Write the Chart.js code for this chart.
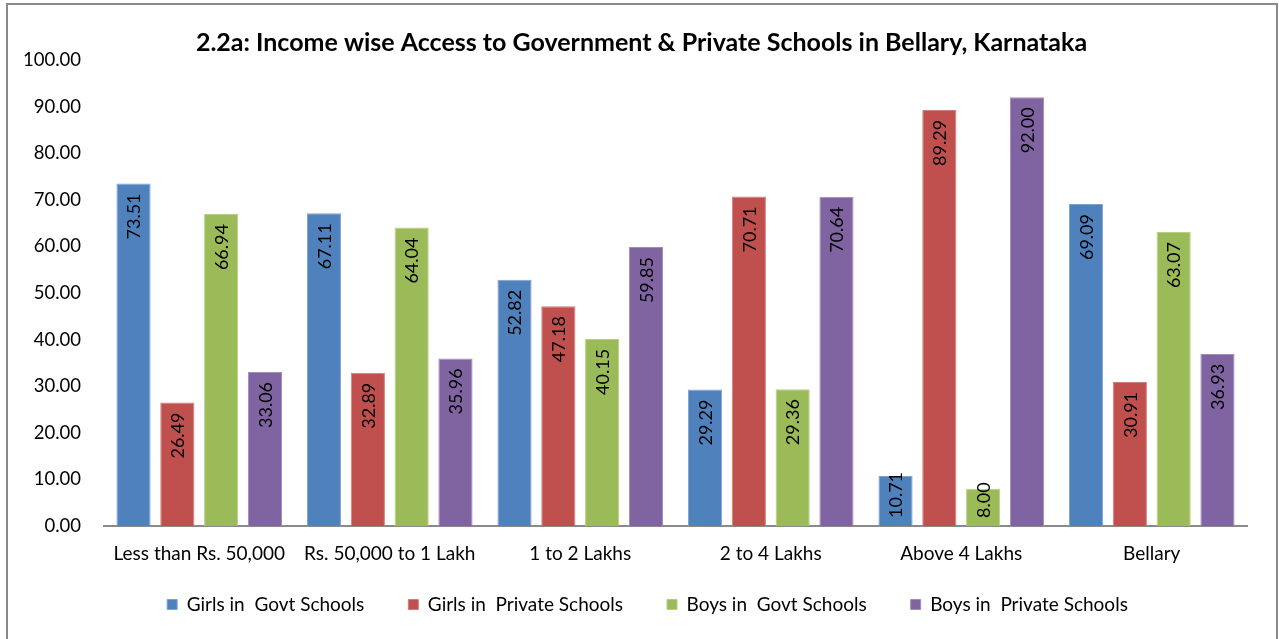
<!DOCTYPE html>
<html>
<head>
<meta charset="utf-8">
<title>Income wise Access to Schools - Bellary</title>
<script src="https://cdn.jsdelivr.net/npm/chart.js@4.4.1/dist/chart.umd.min.js"></script>
<style>
    html, body { margin: 0; padding: 0; background: #fff; overflow: hidden; }
    #wrap { position: relative; width: 1279px; height: 639px; }
    #frame {
        position: absolute; left: 6px; top: 3px; width: 1268px; height: 700px;
        border: 2px solid #8a8a8a; pointer-events: none;
    }
    canvas { position: absolute; left: 0; top: 0; }
</style>
</head>
<body>
<div id="wrap">
    <canvas id="chart" width="1279" height="639"></canvas>
    <div id="frame"></div>
</div>
<script>
// Income groups and per-group shares (%)
const categories = ['Less than Rs. 50,000', 'Rs. 50,000 to 1 Lakh', '1 to 2 Lakhs', '2 to 4 Lakhs', 'Above 4 Lakhs', 'Bellary'];
const girlsGovt    = [73.51, 67.11, 52.82, 29.29, 10.71, 69.09];
const girlsPrivate = [26.49, 32.89, 47.18, 70.71, 89.29, 30.91];
const boysGovt     = [66.94, 64.04, 40.15, 29.36, 8.00, 63.07];
const boysPrivate  = [33.06, 35.96, 59.85, 70.64, 92.00, 36.93];

const FONT = 'Lato, "Open Sans", sans-serif';

// Rotated value labels just inside the top of each bar;
// short bars push the label up so it stays clear of the axis
const barValueLabels = {
    id: 'barValueLabels',
    afterDatasetsDraw(chart) {
        const ctx = chart.ctx;
        ctx.save();
        ctx.font = '18px ' + FONT;
        ctx.fillStyle = '#000';
        ctx.textAlign = 'right';
        ctx.textBaseline = 'middle';
        chart.data.datasets.forEach((ds, i) => {
            chart.getDatasetMeta(i).data.forEach((bar, j) => {
                const txt = ds.data[j].toFixed(2);
                const w = ctx.measureText(txt).width;
                const end = Math.min(bar.y + 10, bar.base - 8 - w);
                ctx.save();
                ctx.translate(bar.x + 1, end);
                ctx.rotate(-Math.PI / 2);
                ctx.fillText(txt, 0, 0);
                ctx.restore();
            });
        });
        ctx.restore();
    }
};

// Legend padding also sets the gap between items, so pull the legend
// up closer to the axis labels and centre title + legend on the frame
const nudgeBlocks = {
    id: 'nudgeBlocks',
    afterLayout(chart) {
        const lg = chart.legend;
        lg.top -= 15; lg.bottom -= 15;
        lg.left += 14; lg.right += 14;
        const tb = chart.titleBlock;
        tb.left += 8; tb.right += 8;
    }
};

function series(label, data, color, edge) {
    return {
        label: label,
        data: data,
        backgroundColor: color,
        borderColor: edge,
        borderWidth: 1,
        categoryPercentage: 0.92,
        barPercentage: 0.78
    };
}

new Chart(document.getElementById('chart'), {
    type: 'bar',
    data: {
        labels: categories,
        datasets: [
            series('Girls in  Govt Schools', girlsGovt, '#4f81bd', '#7fa3d1'),
            series('Girls in  Private Schools', girlsPrivate, '#c0504d', '#d27c79'),
            series('Boys in  Govt Schools', boysGovt, '#9bbb59', '#b6cf83'),
            series('Boys in  Private Schools', boysPrivate, '#8064a2', '#a18cbc')
        ]
    },
    options: {
        responsive: false,
        animation: false,
        layout: { padding: { left: 20, right: 32, top: 28, bottom: 0 } },
        plugins: {
            title: {
                display: true,
                text: '2.2a: Income wise Access to Government & Private Schools in Bellary, Karnataka',
                color: '#000',
                font: { family: FONT, size: 25, weight: 'bold', lineHeight: 1.2 },
                padding: { top: 0, bottom: 2 }
            },
            legend: {
                position: 'bottom',
                labels: {
                    color: '#000',
                    font: { family: FONT, size: 19 },
                    boxWidth: 10,
                    boxHeight: 10,
                    padding: 44
                }
            },
            tooltip: { enabled: false }
        },
        scales: {
            x: {
                grid: { display: false },
                border: { display: true, color: '#8a8a8a', width: 2 },
                afterFit(scale) { scale.height = 40; },
                ticks: { color: '#000', font: { family: FONT, size: 19 }, padding: 8 }
            },
            y: {
                min: 0,
                max: 100,
                grid: { display: false },
                border: { display: false },
                afterFit(scale) { scale.width = 84; },
                ticks: {
                    stepSize: 10,
                    color: '#000',
                    padding: 15,
                    font: { family: FONT, size: 18.5 },
                    callback: v => v.toFixed(2)
                }
            }
        }
    },
    plugins: [barValueLabels, nudgeBlocks]
});
</script>
</body>
</html>
